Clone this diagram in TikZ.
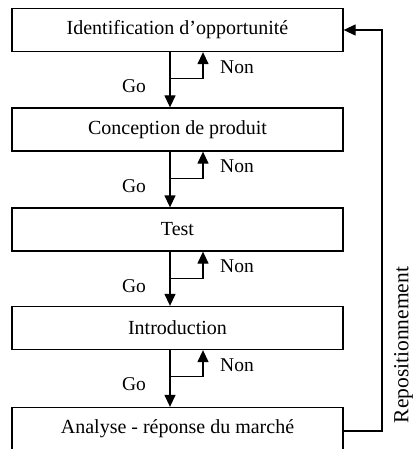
\documentclass[tikz,border=0pt]{standalone}
\usepackage{fontspec}
\setmainfont{Liberation Serif}
\usetikzlibrary{arrows.meta}
\begin{document}
\begin{tikzpicture}[x=1pt,y=-1pt,
  stage/.style={draw, line width=1.3pt, minimum width=331pt, minimum height=43pt,
    inner sep=0pt, font=\fontsize{20}{24}\selectfont},
  lbl/.style={font=\fontsize{19.5}{23}\selectfont, inner sep=0pt},
  flow/.style={line width=1.3pt, -{Triangle[length=12pt,width=11pt]}}]
\useasboundingbox (0,0) rectangle (414,449);

\node[stage] (b1) at (177.5,30)  {Identification d’opportunité};
\node[stage] (b2) at (177.5,129.5) {Conception de produit};
\node[stage] (b3) at (177.5,229.5) {Test};
\node[stage] (b4) at (177.5,328) {Introduction};
\node[stage] (b5) at (177.5,429) {Analyse - réponse du marché};

% Go / Non decisions between consecutive stages
\foreach \a/\b in {b1/b2,b2/b3,b3/b4,b4/b5}{
  \coordinate (\a go) at ([xshift=-7.5pt]\a.south);
  \coordinate (\a nt) at ([xshift=25.5pt]\a.south);
  \coordinate (\a br) at ([yshift=-26.5pt]\a go);
  \draw[flow] (\a go) -- (\a go |- \b.north);
  \draw[flow] (\a br) -| (\a nt);
  \node[lbl] at ([xshift=67pt,yshift=-15pt]\a go) {Non};
  \node[lbl] at ([xshift=-36pt,yshift=-34pt]\a go) {Go};
}

% Repositioning loop back to the first stage
\coordinate (r5) at ([yshift=-2pt]b5.east);
\coordinate (rc) at (382,0);
\draw[flow] (r5) -- (rc |- r5) -- (rc |- b1.east) -- (b1.east);
\node[font=\fontsize{21.5}{25}\selectfont, inner sep=0pt, rotate=90] (rep) at (403.5,345) {Repositionnement};
\end{tikzpicture}
\end{document}
